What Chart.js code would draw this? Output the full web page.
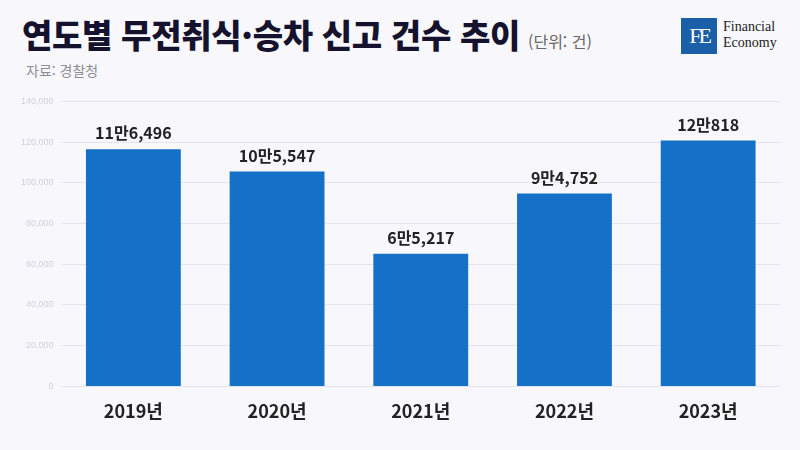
<!DOCTYPE html>
<html lang="ko">
<head>
<meta charset="UTF-8">
<title>연도별 무전취식·승차 신고 건수 추이</title>
<script src="https://cdn.jsdelivr.net/npm/chart.js"></script>
<style>
  html, body { margin: 0; padding: 0; }
  body { width: 800px; height: 450px; background: #f8f8fc; position: relative; overflow: hidden;
         font-family: "Noto Sans CJK KR", "Noto Sans", sans-serif; }
  #title { position: absolute; left: 22px; top: 10px; white-space: nowrap; }
  #title .main { font-size: 33px; font-weight: 900; color: #15122e; letter-spacing: -0.3px; }
  #title .unit { font-size: 16px; color: #666; margin-left: 8px; }
  #source { position: absolute; left: 26px; top: 60px; font-size: 14px; color: #8c8c94; }
  #logo { position: absolute; left: 681px; top: 18px; }
  #logo .box { position: absolute; left: 0; top: 0; width: 36px; height: 36px; background: #1b5fa8;
               color: #fff; font-family: "Liberation Serif", serif; font-size: 22px; line-height: 36px;
               text-align: center; letter-spacing: -3px; }
  #logo .txt { position: absolute; left: 42px; top: 1px; font-family: "Liberation Serif", serif;
               font-size: 14px; line-height: 16px; color: #222; }
  #wrap { position: absolute; left: 0; top: 88px; width: 790px; height: 340px; }
</style>
</head>
<body>
<div id="title"><span class="main">연도별 무전취식·승차 신고 건수 추이</span><span class="unit">(단위: 건)</span></div>
<div id="source">자료: 경찰청</div>
<div id="logo"><div class="box">FE</div><div class="txt">Financial<br>Economy</div></div>
<div id="wrap"><canvas id="myChart"></canvas></div>
<script>
const years = ["2019년", "2020년", "2021년", "2022년", "2023년"];
const reports = [116496, 105547, 65217, 94752, 120818];
const yTicks = [0, 20000, 40000, 60000, 80000, 100000, 120000, 140000];

function koreanCount(v) {
    const man = Math.floor(v / 10000);
    const rest = v % 10000;
    return man + "만" + rest.toLocaleString("en-US");
}

const barLabels = {
    id: "barLabels",
    afterDatasetsDraw(chart) {
        const ctx = chart.ctx;
        const meta = chart.getDatasetMeta(0);
        ctx.save();
        ctx.font = "bold 16px 'Noto Sans CJK KR'";
        ctx.fillStyle = "#222";
        ctx.textAlign = "center";
        ctx.textBaseline = "bottom";
        meta.data.forEach((bar, i) => {
            ctx.fillText(koreanCount(reports[i]), bar.x, bar.y - 8);
        });
        ctx.restore();
    }
};

const ctx = document.getElementById("myChart").getContext("2d");
new Chart(ctx, {
    type: "bar",
    data: {
        labels: years,
        datasets: [{
            data: reports,
            backgroundColor: "#1570c8",
            barPercentage: 0.66,
            categoryPercentage: 1
        }]
    },
    options: {
        responsive: true,
        maintainAspectRatio: false,
        animation: false,
        layout: { padding: { top: 5, right: 10, left: 13 } },
        plugins: { legend: { display: false }, tooltip: { enabled: false } },
        scales: {
            x: {
                grid: { display: false },
                border: { display: false },
                ticks: { color: "#222", font: { size: 18, weight: "bold", family: "'Noto Sans CJK KR'" }, padding: 6 }
            },
            y: {
                min: 0,
                max: 140000,
                afterBuildTicks: axis => { axis.ticks = yTicks.map(v => ({ value: v })); },
                grid: { color: "#e4e4ec", drawTicks: false },
                border: { display: false },
                ticks: { color: "#d0d0d8", font: { size: 9 }, padding: 8,
                         callback: v => v.toLocaleString("en-US") }
            }
        }
    },
    plugins: [barLabels]
});
</script>
</body>
</html>
